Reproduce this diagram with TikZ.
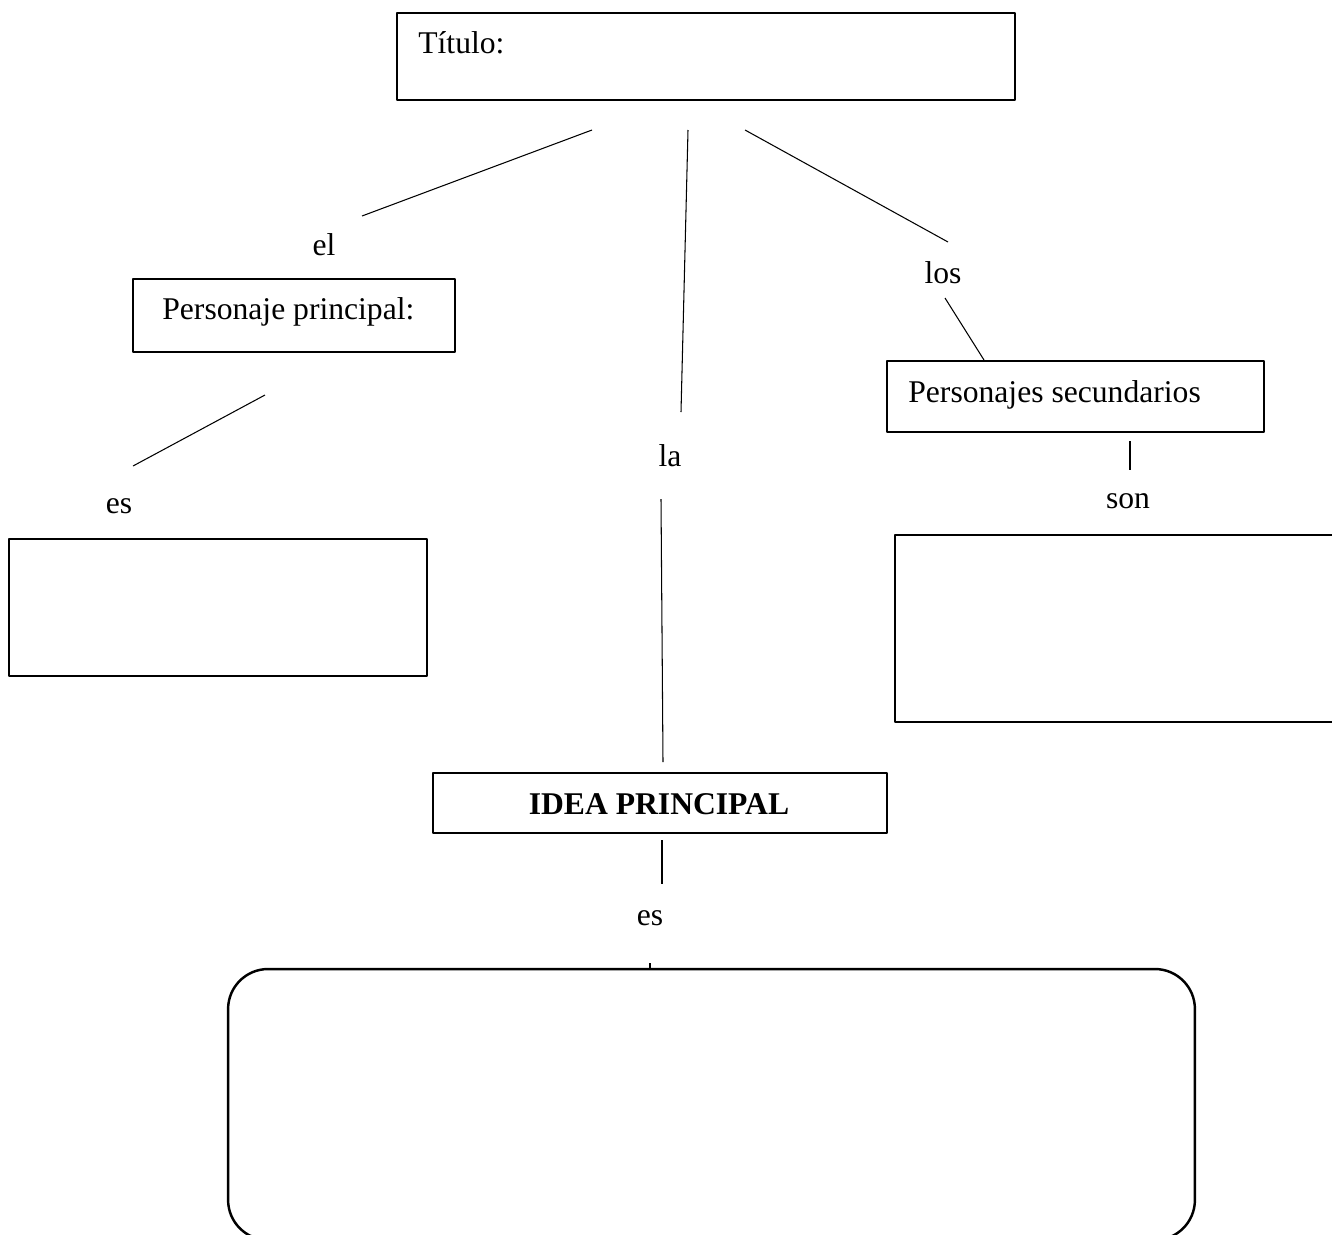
\documentclass[tikz,border=0pt]{standalone}
\usepackage{fontspec}
\setmainfont{Liberation Serif}
\begin{document}
\begin{tikzpicture}[x=0.02cm, y=-0.02cm, font=\fontsize{18}{21.6}\selectfont, line join=round]
	\tikzset{
		box/.style={draw, line width=0.9pt, inner sep=0pt},
		blank/.style={draw, line width=1.6pt, inner sep=0pt},
		word/.style={anchor=base, inner sep=0pt},
		link/.style={line width=0.6pt}
	}
	\useasboundingbox (0,0) rectangle (1332,1234);
	\clip (0,0) rectangle (1332,1234);
	% cajas
	\node[box, minimum width=12.36cm, minimum height=1.74cm] (titulo) at (706,56.5) {};
	\node[box, minimum width=6.44cm, minimum height=1.46cm] (principal) at (294,315.5) {};
	\node[box, minimum width=7.54cm, minimum height=1.42cm] (secundarios) at (1075.5,396.5) {};
	\node[box, minimum width=9.08cm, minimum height=1.2cm] (idea) at (660,803) {};
	\node[blank, minimum width=8.36cm, minimum height=2.74cm] (vacioizq) at (218,607.5) {};
	\node[blank, minimum width=9.1cm, minimum height=3.74cm] (vacioder) at (1122.5,628.5) {};
	\node[blank, line width=1.4pt, rounded corners=0.8cm, minimum width=19.34cm, minimum height=5.42cm] (resumen) at (711.5,1104.5) {};
	% textos
	\node[word, anchor=base west] (ttitulo) at (418,53) {Título:};
	\node[word, anchor=base west] (tprincipal) at (162,319) {Personaje principal:};
	\node[word, anchor=base west] (tsecundarios) at (908,402) {Personajes secundarios};
	\node[word] (tidea) at (659,814) {\textbf{IDEA PRINCIPAL}};
	\node[word] (el) at (324,255) {el};
	\node[word] (la) at (670,466) {la};
	\node[word] (los) at (943,283) {los};
	\node[word] (es1) at (119,513) {es};
	\node[word] (son) at (1128,508) {son};
	\node[word] (es2) at (650,925) {es};
	% extremos de las lineas
	\coordinate (t1) at (592,130);
	\coordinate (t2) at (688,130);
	\coordinate (t3) at (745,130);
	\coordinate (e1) at (362,216);
	\coordinate (e2) at (681,412);
	\coordinate (e3) at (948,242);
	\coordinate (l1) at (945,298);
	\coordinate (l2) at (984,360);
	\coordinate (p1) at (265,395);
	\coordinate (p2) at (133,466);
	\coordinate (s1) at (1130,441);
	\coordinate (s2) at (1130,470);
	\coordinate (a1) at (661,499);
	\coordinate (a2) at (663,762);
	\coordinate (i1) at (662,840);
	\coordinate (i2) at (662,884);
	\coordinate (k1) at (650,963);
	\coordinate (k2) at (650,969);
	\draw[link] (t1)--(e1);
	\draw[link] (t2)--(e2);
	\draw[link] (t3)--(e3);
	\draw[link] (l1)--(l2);
	\draw[link] (p1)--(p2);
	\draw[link] (s1)--(s2);
	\draw[link] (a1)--(a2);
	\draw[link] (i1)--(i2);
	\draw[link] (k1)--(k2);
\end{tikzpicture}
\end{document}
